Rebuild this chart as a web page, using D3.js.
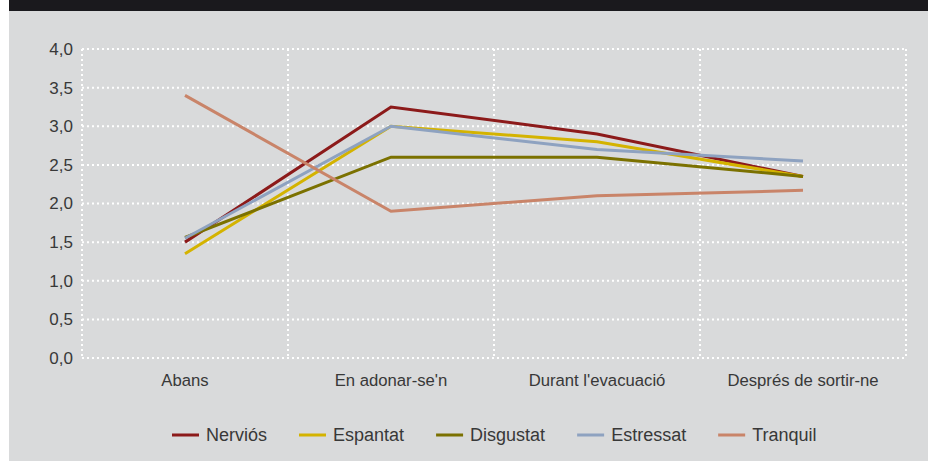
<!DOCTYPE html>
<html>
<head>
<meta charset="utf-8">
<script src="https://cdn.jsdelivr.net/npm/d3@7"></script>
<style>
  body { margin: 0; background: #fff; }
  svg { display: block; }
  text { font-family: "Liberation Sans", Arial, sans-serif; fill: #383838; }
</style>
</head>
<body>
<script>
'use strict';

// Data
const moments = ['Abans', "En adonar-se'n", "Durant l'evacuació", 'Després de sortir-ne'];
const seriesNames = ['Nerviós', 'Espantat', 'Disgustat', 'Estressat', 'Tranquil'];
const nervios = [1.5, 3.25, 2.9, 2.35];
const espantat = [1.35, 3.0, 2.8, 2.35];
const disgustat = [1.56, 2.6, 2.6, 2.35];
const estressat = [1.55, 3.0, 2.7, 2.55];
const tranquil = [3.4, 1.9, 2.1, 2.17];
const yTicks = [0, 0.5, 1, 1.5, 2, 2.5, 3, 3.5, 4];
const colours = ['#8c1a1a', '#d4b300', '#7b7100', '#8ea2c0', '#c98469'];

const values = [nervios, espantat, disgustat, estressat, tranquil];
const series = seriesNames.map((name, i) => ({ name, colour: colours[i], values: values[i] }));

const width = 928;
const height = 461;
const margin = { top: 49, right: 22, bottom: 103, left: 82 };

const svg = d3.select('body').append('svg')
  .attr('width', width)
  .attr('height', height);

// Panel + dark title strip
svg.append('rect')
  .attr('x', 9).attr('y', 0)
  .attr('width', width - 9).attr('height', height)
  .attr('fill', '#d9dadb');
svg.append('rect')
  .attr('x', 9).attr('y', 0)
  .attr('width', width - 9).attr('height', 11)
  .attr('fill', '#1a191d');

const x = d3.scaleBand()
  .domain(moments)
  .range([margin.left, width - margin.right]);

const y = d3.scaleLinear()
  .domain([0, 4])
  .range([height - margin.bottom, margin.top]);

const dotted = sel => sel
  .attr('stroke', '#fff')
  .attr('stroke-width', 2)
  .attr('stroke-dasharray', '2,3');

// Grid
const grid = svg.append('g').attr('class', 'grid');
grid.selectAll('line.h')
  .data(yTicks)
  .join('line')
  .attr('class', 'h')
  .attr('x1', margin.left)
  .attr('x2', width - margin.right)
  .attr('y1', d => y(d))
  .attr('y2', d => y(d))
  .call(dotted);

const bounds = moments.map(m => x(m)).concat([x.range()[1]]);
grid.selectAll('line.v')
  .data(bounds)
  .join('line')
  .attr('class', 'v')
  .attr('x1', d => d)
  .attr('x2', d => d)
  .attr('y1', y(4))
  .attr('y2', y(0))
  .call(dotted);

// Axes
const yAxis = svg.append('g')
  .attr('transform', `translate(${margin.left},0)`)
  .call(d3.axisLeft(y)
    .tickValues(yTicks)
    .tickSize(0)
    .tickPadding(9)
    .tickFormat(d => d3.format('.1f')(d).replace('.', ',')));
yAxis.select('.domain').remove();
yAxis.selectAll('text')
  .style('font-size', '17px')
  .attr('fill', '#383838');

const xAxis = svg.append('g')
  .attr('transform', `translate(0,${y(0)})`)
  .call(d3.axisBottom(x).tickSize(0).tickPadding(16));
xAxis.select('.domain').remove();
xAxis.selectAll('text')
  .style('font-size', '16.7px')
  .attr('fill', '#383838');

// Lines
const line = d3.line()
  .x((_d, i) => x(moments[i]) + x.bandwidth() / 2)
  .y(d => y(d));

svg.append('g')
  .selectAll('path')
  .data(series)
  .join('path')
  .attr('fill', 'none')
  .attr('stroke', d => d.colour)
  .attr('stroke-width', 3)
  .attr('d', d => line(d.values));

// Legend
const legend = svg.append('g').attr('transform', 'translate(172,435)');
let offset = 0;
series.forEach(s => {
  const item = legend.append('g').attr('transform', `translate(${offset},0)`);
  item.append('line')
    .attr('x1', 0).attr('x2', 27)
    .attr('stroke', s.colour)
    .attr('stroke-width', 3);
  const label = item.append('text')
    .attr('x', 34)
    .attr('dy', '0.35em')
    .style('font-size', '18px')
    .text(s.name);
  offset += 34 + label.node().getComputedTextLength() + 32;
});
</script>
</body>
</html>
